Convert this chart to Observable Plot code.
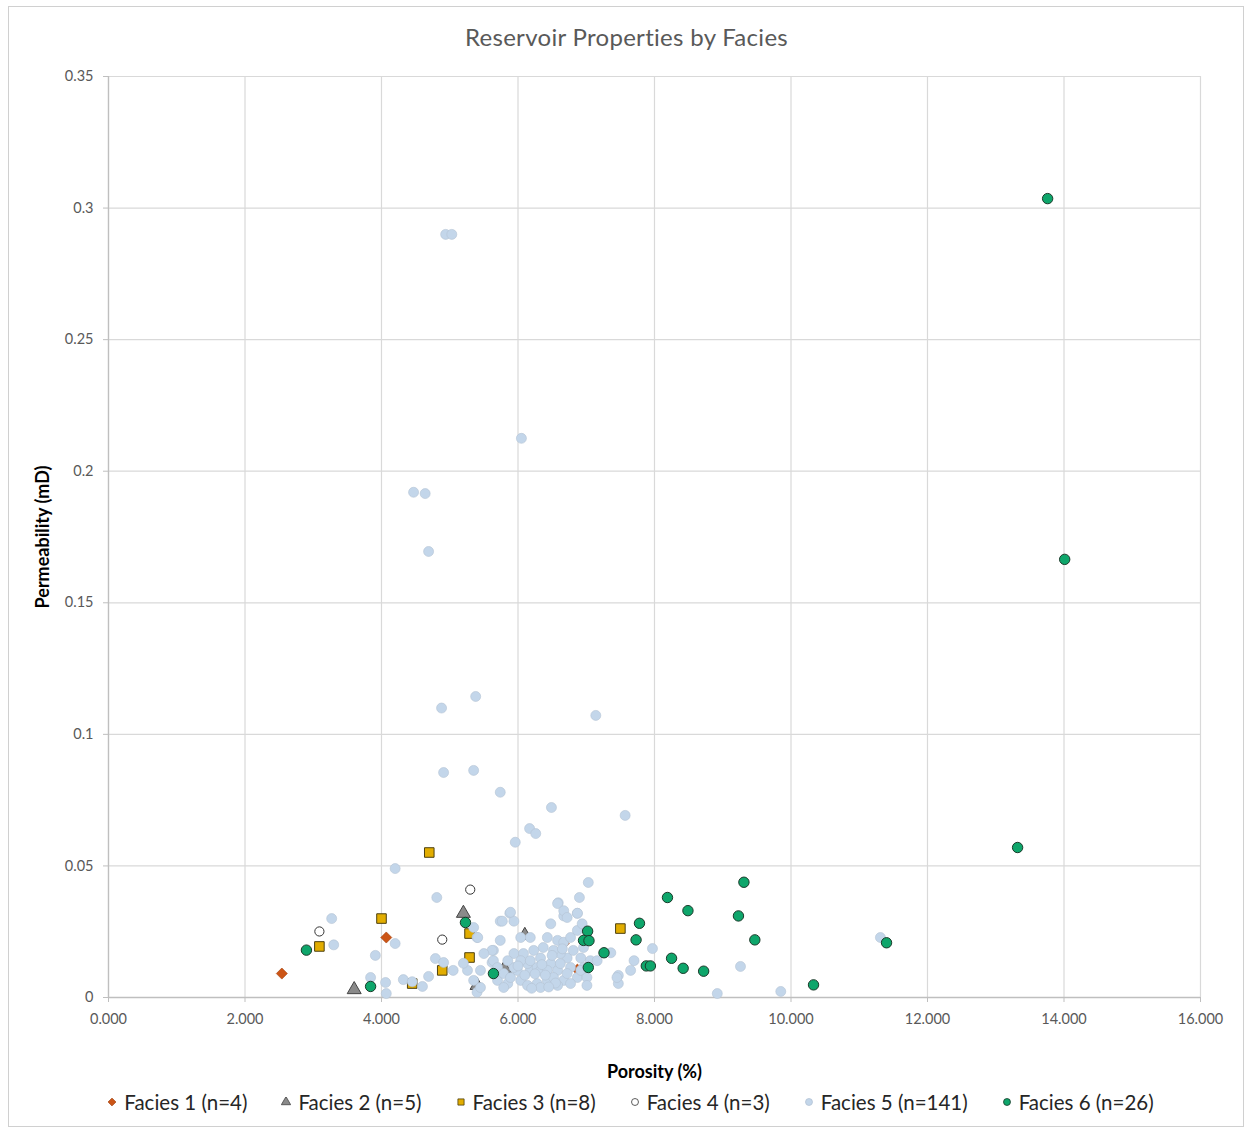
<!DOCTYPE html>
<html>
<head>
<meta charset="utf-8">
<script src="https://cdn.jsdelivr.net/npm/d3@7"></script>
<script src="https://cdn.jsdelivr.net/npm/@observablehq/plot@0.6"></script>
<style>
  html, body { margin: 0; padding: 0; background: #fff; }
  #wrap { position: relative; width: 1247px; height: 1130px; font-family: Lato, "Open Sans", sans-serif; }
  #frame { position: absolute; left: 8px; top: 6px; width: 1236px; height: 1121px; border: 1px solid #d0d0d0; box-sizing: border-box; }
  #title { position: absolute; left: 0; width: 1247px; top: 22px; text-align: center; font-size: 24px; color: #595959; letter-spacing: 0.3px; padding-left: 6px; box-sizing: border-box; }
  #chart { position: absolute; left: 0; top: 60px; }
  #legend { position: absolute; left: 0; width: 1247px; top: 1090px; display: flex; justify-content: center; gap: 34px; font-size: 20.5px; color: #262626; padding-left: 14px; box-sizing: border-box; }
  #legend .item { display: flex; align-items: center; gap: 7px; }
  #chart [aria-label="x-axis tick label"], #chart [aria-label="y-axis tick label"] { fill: #595959; font-size: 14.5px; }
  #chart [aria-label="x-axis label"], #chart [aria-label="y-axis label"] { font-weight: bold; fill: #000; font-size: 18px; }
</style>
</head>
<body>
<div id="wrap">
  <div id="frame"></div>
  <div id="title">Reservoir Properties by Facies</div>
  <div id="chart"></div>
  <div id="legend"></div>
</div>
<script>
// ---- Data (porosity %, permeability mD) ----
const faciesNames = ["Facies 1 (n=4)", "Facies 2 (n=5)", "Facies 3 (n=8)", "Facies 4 (n=3)", "Facies 5 (n=141)", "Facies 6 (n=26)"];
const xTicks = [0, 2, 4, 6, 8, 10, 12, 14, 16];
const yTicks = [0, 0.05, 0.1, 0.15, 0.2, 0.25, 0.3, 0.35];

const facies1 = [[2.54,0.0091],[4.07,0.0228],[6.67,0.0205],[6.87,0.0106]];
const facies2 = [[3.60,0.0030],[5.20,0.0320],[6.10,0.0236],[5.80,0.0110],[5.40,0.0046]];
const facies3 = [[4.70,0.0551],[4.00,0.0300],[3.09,0.0194],[4.45,0.0053],[4.89,0.0103],[5.29,0.0243],[5.29,0.0152],[7.50,0.0262]];
const facies4 = [[3.09,0.0251],[4.89,0.0220],[5.30,0.0410]];
const facies5 = [
  [4.94,0.290],[5.03,0.290],[6.05,0.2125],[4.47,0.192],[4.64,0.1915],[4.69,0.1695],[5.38,0.1144],[4.88,0.110],
  [7.14,0.1072],[4.91,0.0855],[5.35,0.0863],[5.74,0.078],[6.49,0.0722],[7.57,0.0692],[6.17,0.0642],[6.26,0.0623],
  [5.96,0.059],[4.20,0.049],[4.81,0.038],[3.27,0.030],[3.30,0.020],[3.91,0.016],[3.84,0.0076],[4.06,0.0057],
  [4.07,0.0015],[4.20,0.0205],[4.32,0.0068],[4.60,0.0042],[4.69,0.0080],[4.79,0.0148],[4.91,0.0133],[5.05,0.0103],
  [7.03,0.0437],[6.90,0.038],[6.87,0.032],[6.59,0.036],[6.67,0.031],[5.88,0.032],[5.94,0.029],[5.74,0.029],
  [5.74,0.0217],[5.64,0.0179],[5.62,0.0133],[5.40,0.0228],[5.35,0.0266],[5.35,0.0065],[5.40,0.0020],[7.36,0.017],
  [7.70,0.014],[7.65,0.0103],[7.47,0.0084],[7.47,0.0053],[7.97,0.0186],[9.26,0.0118],[8.92,0.0015],[9.85,0.0023],
  [11.31,0.0228],[4.45,0.0060],[5.77,0.029],[5.89,0.0324],[5.62,0.0179],[5.64,0.0140],[5.94,0.0167],[6.18,0.0228],
  [6.33,0.0150],[6.18,0.0103],[6.04,0.0065],[5.85,0.0053],[5.70,0.0065],[6.48,0.0280],[6.58,0.0357],[6.67,0.0330],
  [6.72,0.0304],[6.87,0.0320],[6.43,0.0228],[6.58,0.0217],[6.67,0.0210],[6.77,0.0228],[6.87,0.0255],[6.96,0.0190],
  [6.92,0.0150],[6.96,0.0114],[6.87,0.0076],[6.67,0.0065],[6.58,0.0103],[6.43,0.0065],[6.28,0.0053],[6.14,0.0046],
  [6.48,0.0129],[6.28,0.0114],[6.37,0.0190],[6.23,0.0179],[6.08,0.0167],[6.14,0.0129],[5.99,0.0103],[6.72,0.0150],
  [6.77,0.0114],[6.81,0.0179],[6.62,0.0167],[6.52,0.0179],[5.70,0.0114],[5.79,0.0091],[5.89,0.0076],[5.94,0.0114],
  [6.04,0.0140],[6.04,0.0228],[6.18,0.0140],[6.33,0.0103],[6.43,0.0103],[6.52,0.0076],[6.62,0.0129],[6.72,0.0091],
  [6.92,0.0103],[7.01,0.0076],[7.06,0.0140],[7.01,0.0228],[6.94,0.0280],[5.79,0.0038],[6.33,0.0038],[6.58,0.0046],
  [6.77,0.0053],[7.01,0.0046],[5.45,0.0103],[5.50,0.0167],[5.41,0.0228],[5.45,0.0038],[5.26,0.0103],[7.16,0.0140],
  [7.45,0.0076],[6.10,0.0085],[6.25,0.0090],[6.40,0.0085],[6.55,0.0055],[6.20,0.0035],[6.45,0.0040],[6.00,0.0120],
  [6.35,0.0125],[6.50,0.0160],[6.65,0.0185],[5.85,0.0140],[5.20,0.0130]
];
const facies6 = [
  [13.76,0.3036],[14.01,0.1665],[13.32,0.0570],[2.90,0.0180],[3.84,0.0042],[5.23,0.0285],[5.64,0.0091],
  [7.02,0.0252],[6.96,0.0217],[7.04,0.0216],[7.03,0.0114],[7.26,0.0170],[7.78,0.0282],[7.73,0.0219],
  [7.88,0.0120],[7.94,0.0120],[8.19,0.0380],[8.25,0.0149],[8.42,0.0111],[8.49,0.0330],[8.72,0.0100],
  [9.23,0.0310],[9.31,0.0438],[9.47,0.0219],[10.33,0.0048],[11.40,0.0208]
];

const series = [facies1, facies2, facies3, facies4, facies5, facies6];
const styles = [
  {symbol: "diamond2", d3sym: d3.symbolDiamond2, fill: "#cc5516", stroke: "#a3400c", r: 5.0, sw: 0.6},
  {symbol: "triangle", d3sym: d3.symbolTriangle, fill: "#8a8a8a", stroke: "#454545", r: 5.2, sw: 1},
  {symbol: "square", d3sym: d3.symbolSquare, fill: "#e2ad00", stroke: "#4d4010", r: 5.4, sw: 1},
  {symbol: "circle", d3sym: d3.symbolCircle, fill: "#ffffff", stroke: "#333333", r: 4.6, sw: 1},
  {symbol: "circle", d3sym: d3.symbolCircle, fill: "#c3d6ea", stroke: "#b4c3d4", r: 5.0, sw: 0.6},
  {symbol: "circle", d3sym: d3.symbolCircle, fill: "#0ea66b", stroke: "#1b3a2a", r: 5.2, sw: 1}
];

const rows = series.map((s, i) => s.map(([x, y]) => ({facies: faciesNames[i], x, y})));

const chart = Plot.plot({
  width: 1247,
  height: 1027,
  marginTop: 16,
  marginLeft: 108,
  marginRight: 47,
  marginBottom: 90,
  style: {fontFamily: "Lato, 'Open Sans', sans-serif", fontSize: "14px", background: "transparent"},
  x: {domain: [0, 16]},
  y: {domain: [0, 0.35]},
  marks: [
    Plot.gridX(xTicks, {stroke: "#d9d9d9", strokeOpacity: 1, strokeWidth: 1.2}),
    Plot.gridY(yTicks, {stroke: "#d9d9d9", strokeOpacity: 1, strokeWidth: 1.2}),
    Plot.ruleY([0], {stroke: "#bfbfbf", strokeWidth: 1.3}),
    Plot.ruleX([0], {stroke: "#bfbfbf", strokeWidth: 1.3}),
    Plot.axisX({ticks: xTicks, tickFormat: d3.format(".3f"), tickSize: 5, tickPadding: 11, stroke: "#bfbfbf",
      label: "Porosity (%)", labelAnchor: "center", labelOffset: 80, labelArrow: "none"}),
    Plot.axisY({ticks: yTicks, tickFormat: d => d === 0 ? "0" : String(+d.toFixed(2)), tickSize: 5, tickPadding: 10, stroke: "#bfbfbf",
      label: "Permeability (mD)", labelAnchor: "center", labelOffset: 72, labelArrow: "none"}),
    ...rows.map((data, i) => Plot.dot(data, {
      x: "x", y: "y", symbol: () => styles[i].symbol, r: styles[i].r,
      fill: styles[i].fill, stroke: styles[i].stroke, strokeWidth: styles[i].sw
    }))
  ]
});
document.getElementById("chart").appendChild(chart);

// legend
const legend = document.getElementById("legend");
faciesNames.forEach((name, i) => {
  const st = styles[i];
  const item = document.createElement("div");
  item.className = "item";
  const sym = d3.symbol(st.d3sym, 38)();
  item.innerHTML = `<svg width="10" height="10" viewBox="-5 -5 10 10"><path d="${sym}" fill="${st.fill}" stroke="${st.stroke}" stroke-width="0.8"/></svg><span>${name}</span>`;
  legend.appendChild(item);
});
</script>
</body>
</html>
